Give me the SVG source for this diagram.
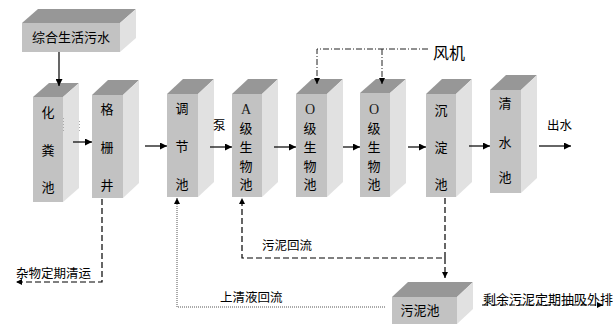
<svg xmlns="http://www.w3.org/2000/svg" width="616" height="332" viewBox="0 0 616 332">
<defs>
<marker id="ah" viewBox="0 0 10 10" refX="10" refY="5" markerWidth="7" markerHeight="7" markerUnits="userSpaceOnUse" orient="auto"><path d="M0,0 L10,5 L0,10 z" fill="#000"/></marker>
<marker id="ahs" viewBox="0 0 10 10" refX="10" refY="5" markerWidth="6" markerHeight="6" markerUnits="userSpaceOnUse" orient="auto"><path d="M0,0 L10,5 L0,10 z" fill="#000"/></marker>
</defs>
<style>
.f{fill:#c2c2c2}
.t{fill:#979797}
.s{fill:#e1e1e1}
.c{font-family:"Noto Sans CJK SC","Noto Sans CJK TC",sans-serif;font-size:13px;fill:#000;text-anchor:middle}
.l{font-family:"Noto Sans CJK SC",sans-serif;font-size:12.5px;fill:#000}
.r{font-family:"Liberation Serif",serif;font-size:14px;fill:#1a1a1a;text-anchor:middle}
.k{fill:none;stroke:#000;stroke-width:1.2}
.d{fill:none;stroke:#000;stroke-width:1.2;stroke-dasharray:6 3}
.dd{fill:none;stroke:#222;stroke-width:1;stroke-dasharray:6 2 1 2}
.dt{fill:none;stroke:#555;stroke-width:1;stroke-dasharray:1 1}
</style>
<rect width="616" height="332" fill="#fff"/>

<g id="n-source">
<polygon class="t" points="22,23 38,9 136,9 120,23"/>
<polygon class="s" points="120,23 136,9 136,38 120,52"/>
<rect class="f" x="22" y="23" width="98" height="29"/>
<text class="c" x="71" y="42">综合生活污水</text>
</g>

<g id="n-septic">
<polygon class="t" points="33,97 49,83 79,83 63,97"/>
<polygon class="s" points="63,97 79,83 79,188 63,202"/>
<rect class="f" x="33" y="97" width="30" height="105"/>
<text class="c" x="48" y="117">化</text>
<text class="c" x="48" y="155">粪</text>
<text class="c" x="48" y="192">池</text>
</g>

<g id="n-grille">
<polygon class="t" points="92,95 108,80 139,80 123,95"/>
<polygon class="s" points="123,95 139,80 139,183 123,198"/>
<rect class="f" x="92" y="95" width="31" height="103"/>
<text class="c" x="107" y="114">格</text>
<text class="c" x="107" y="152">栅</text>
<text class="c" x="107" y="190">井</text>
</g>

<g id="n-adjust">
<polygon class="t" points="167,94 183,79 214,79 198,94"/>
<polygon class="s" points="198,94 214,79 214,182 198,197"/>
<rect class="f" x="167" y="94" width="31" height="103"/>
<text class="c" x="182" y="113">调</text>
<text class="c" x="182" y="151">节</text>
<text class="c" x="182" y="189">池</text>
</g>

<g id="n-abio">
<polygon class="t" points="232,94 248,79 278,79 262,94"/>
<polygon class="s" points="262,94 278,79 278,182 262,197"/>
<rect class="f" x="232" y="94" width="30" height="103"/>
<text class="r" x="246" y="114">A</text>
<text class="c" x="246" y="133">级</text>
<text class="c" x="246" y="152">生</text>
<text class="c" x="246" y="171">物</text>
<text class="c" x="246" y="189">池</text>
</g>

<g id="n-obio1">
<polygon class="t" points="296,94 312,79 343,79 327,94"/>
<polygon class="s" points="327,94 343,79 343,182 327,197"/>
<rect class="f" x="296" y="94" width="31" height="103"/>
<text class="r" x="310" y="114">O</text>
<text class="c" x="310" y="133">级</text>
<text class="c" x="310" y="152">生</text>
<text class="c" x="310" y="171">物</text>
<text class="c" x="310" y="189">池</text>
</g>

<g id="n-obio2">
<polygon class="t" points="360,93 376,79 406,79 390,93"/>
<polygon class="s" points="390,93 406,79 406,183 390,197"/>
<rect class="f" x="360" y="93" width="30" height="104"/>
<text class="r" x="374" y="114">O</text>
<text class="c" x="374" y="133">级</text>
<text class="c" x="374" y="152">生</text>
<text class="c" x="374" y="171">物</text>
<text class="c" x="374" y="189">池</text>
</g>

<g id="n-settle">
<polygon class="t" points="426,94 442,79 472,79 456,94"/>
<polygon class="s" points="456,94 472,79 472,182 456,197"/>
<rect class="f" x="426" y="94" width="30" height="103"/>
<text class="c" x="441" y="115">沉</text>
<text class="c" x="441" y="152">淀</text>
<text class="c" x="441" y="189">池</text>
</g>

<g id="n-clear">
<polygon class="t" points="490,90 506,75 537,75 521,90"/>
<polygon class="s" points="521,90 537,75 537,178 521,193"/>
<rect class="f" x="490" y="90" width="31" height="103"/>
<text class="c" x="505" y="108">清</text>
<text class="c" x="505" y="147">水</text>
<text class="c" x="505" y="182">池</text>
</g>

<g id="n-sludge">
<polygon class="t" points="392,297 408,282 473,282 457,297"/>
<polygon class="s" points="457,297 473,282 473,309 457,324"/>
<rect class="f" x="392" y="297" width="65" height="27"/>
<text class="c" x="420" y="315">污泥池</text>
</g>

<g id="connectors">
<line class="k" x1="59" y1="52" x2="59" y2="86" marker-end="url(#ah)"/>
<line class="k" x1="73" y1="142" x2="92" y2="142" marker-end="url(#ah)"/>
<line class="k" x1="145" y1="146" x2="167" y2="146" marker-end="url(#ah)"/>
<line class="k" x1="210" y1="147" x2="232" y2="147" marker-end="url(#ah)"/>
<line class="k" x1="274" y1="147" x2="296" y2="147" marker-end="url(#ah)"/>
<line class="k" x1="343" y1="147" x2="360" y2="147" marker-end="url(#ah)"/>
<line class="k" x1="408" y1="147" x2="426" y2="147" marker-end="url(#ah)"/>
<line class="k" x1="469" y1="146" x2="490" y2="146" marker-end="url(#ah)"/>
<line class="k" x1="539" y1="146" x2="571" y2="146" marker-end="url(#ah)"/>
<polyline class="dd" points="428,49 317,49 317,84" marker-end="url(#ahs)"/>
<line class="dd" x1="382" y1="49" x2="382" y2="84" marker-end="url(#ahs)"/>
<polyline class="d" points="102,199 102,282 16,282" marker-end="url(#ahs)"/>
<polyline class="dt" points="385,307 177,307 177,198" marker-end="url(#ahs)"/>
<polyline class="d" points="445,198 445,258 242,258 242,198" marker-end="url(#ahs)"/>
<line class="d" x1="445" y1="258" x2="445" y2="278" marker-end="url(#ahs)"/>
<line class="d" x1="482" y1="305" x2="603" y2="305" marker-end="url(#ahs)"/>
<line x1="63.5" y1="118" x2="63.5" y2="131" stroke="#aaa" stroke-width="1" stroke-dasharray="1 2"/>
<line x1="79.5" y1="121" x2="79.5" y2="131" stroke="#aaa" stroke-width="1" stroke-dasharray="1 2"/>
</g>

<g id="labels">
<text class="l" x="433" y="59" style="font-size:16px">风机</text>
<text class="l" x="213" y="130">泵</text>
<text class="l" x="547" y="130">出水</text>
<text class="l" x="262" y="250">污泥回流</text>
<text class="l" x="220" y="302">上清液回流</text>
<text class="l" x="16" y="278">杂物定期清运</text>
<text class="l" x="483" y="304" style="font-size:13px">剩余污泥定期抽吸外排</text>
</g>
</svg>
